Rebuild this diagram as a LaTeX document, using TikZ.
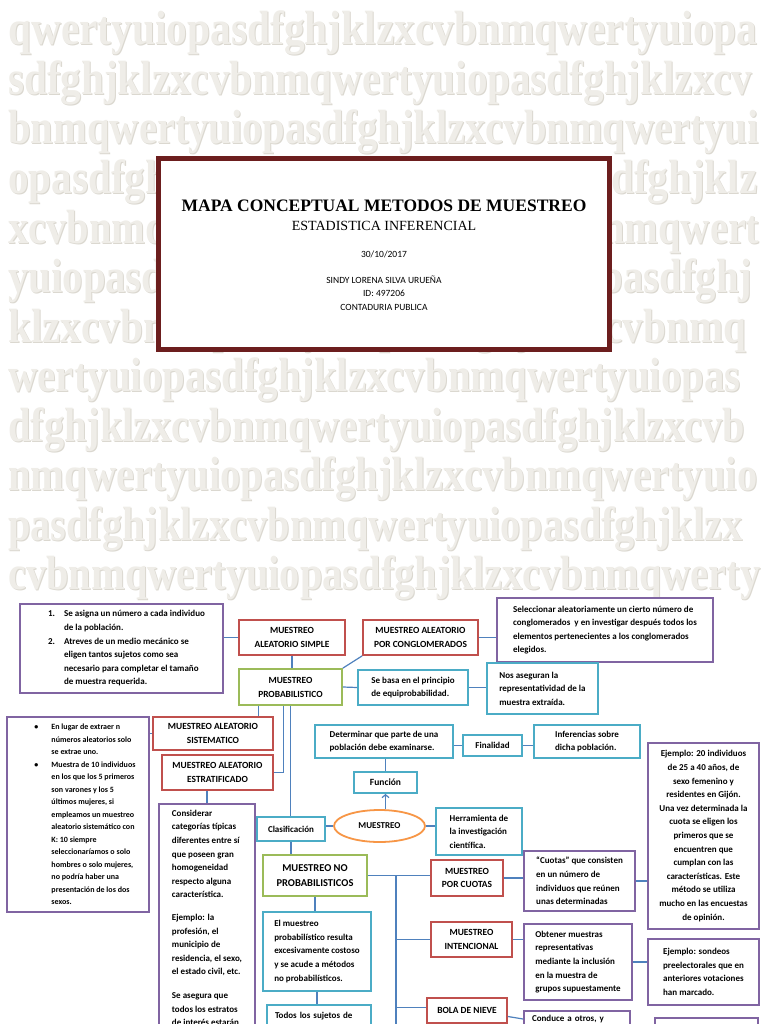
\documentclass[tikz,border=0pt]{standalone}
\usepackage{fontspec}
\usepackage{graphicx}
\setmainfont{Carlito}
\newfontfamily\serifface{Liberation Serif}
\usetikzlibrary{shapes.geometric,arrows.meta,calc}

\definecolor{boxred}{RGB}{192,80,77}
\definecolor{boxgreen}{RGB}{155,187,89}
\definecolor{boxcyan}{RGB}{75,172,198}
\definecolor{boxpurple}{RGB}{128,100,162}
\definecolor{boxorange}{RGB}{247,150,70}
\definecolor{linkblue}{RGB}{79,129,189}
\definecolor{framered}{RGB}{108,30,30}
\definecolor{bgletter}{RGB}{239,237,232}
\definecolor{bgshadow}{RGB}{219,216,208}

\newcommand{\listlead}[3]{\hspace*{#1}\makebox[#2][l]{#3}}
\newcommand{\listpad}[1]{\hspace*{#1}}
\newcommand{\bgrow}[2]{\resizebox*{#2pt}{\totalheight}{#1}}

\tikzset{every picture/.style={line width=0.75pt}}
\tikzset{
  bgtext/.style={anchor=base west, inner sep=0pt, font=\serifface\bfseries\fontsize{48}{48}\selectfont},
  titletext/.style={inner sep=0pt},
  mapbox/.style={draw, line width=1.8pt, fill=white, inner sep=3pt, align=left, font=\bfseries\fontsize{9}{13.6}\selectfont},
  redbox/.style={mapbox, draw=boxred, align=center, font=\bfseries\fontsize{9.4}{13.5}\selectfont},
  greenbox/.style={mapbox, draw=boxgreen, align=center},
  cyanbox/.style={mapbox, draw=boxcyan},
  purplebox/.style={mapbox, draw=boxpurple},
  link/.style={draw=linkblue, line width=1.2pt},
}

\begin{document}
\begin{tikzpicture}[x=1pt,y=1pt,yscale=-1]
\useasboundingbox (0,0) rectangle (768,1024);
\clip (0,0) rectangle (768,1024);
\fill[white] (0,0) rectangle (768,1024);

\foreach \row/\w [count=\i] in {qwertyuiopasdfghjklzxcvbnmqwertyuiopa/749,sdfghjklzxcvbnmqwertyuiopasdfghjklzxcv/744,bnmqwertyuiopasdfghjklzxcvbnmqwertyui/750,opasdfghjklzxcvbnmqwertyuiopasdfghjklz/749,xcvbnmqwertyuiopasdfghjklzxcvbnmqwert/751,yuiopasdfghjklzxcvbnmqwertyuiopasdfghj/744,klzxcvbnmqwertyuiopasdfghjklzxcvbnmq/738,wertyuiopasdfghjklzxcvbnmqwertyuiopas/732,dfghjklzxcvbnmqwertyuiopasdfghjklzxcvb/737,nmqwertyuiopasdfghjklzxcvbnmqwertyuio/749,pasdfghjklzxcvbnmqwertyuiopasdfghjklzx/734,cvbnmqwertyuiopasdfghjklzxcvbnmqwerty/752} {
  \node[bgtext, text=bgshadow] at (9, {46+49.5*(\i-1)}) {\bgrow{\row}{\w}};
  \node[bgtext, text=bgletter] (bg\i) at (8, {45+49.5*(\i-1)}) {\bgrow{\row}{\w}};
}

\node[draw=framered, line width=4pt, fill=white, minimum width=452, minimum height=191] (titlebox) at (384,254) {};
\draw[framered, line width=1pt] ($(titlebox.north west)+(4.5,4.5)$) rectangle ($(titlebox.south east)+(-4.5,-4.5)$);
\node[titletext, font=\serifface\bfseries\fontsize{17.5}{20}\selectfont] (title) at (384,206) {MAPA CONCEPTUAL METODOS DE MUESTREO};
\node[titletext, font=\serifface\fontsize{14}{16}\selectfont] (subtitle) at (384,226) {ESTADISTICA INFERENCIAL};
\node[titletext, font=\fontsize{9.5}{12}\selectfont] (fecha) at (384,254) {30/10/2017};
\node[titletext, font=\fontsize{9.5}{13.3}\selectfont, align=center] (autor) at (384,293) {SINDY LORENA SILVA URUEÑA\\ID: 497206\\CONTADURIA PUBLICA};

\node[purplebox, minimum width=203, minimum height=89] (pasos) at (121.5,648.5) {\listlead{10pt}{16pt}{1.}Se asigna un número a cada individuo\\\listpad{26pt}de la población.\\\listlead{10pt}{16pt}{2.}Atreves de un medio mecánico se\\\listpad{26pt}eligen tantos sujetos como sea\\\listpad{26pt}necesario para completar el tamaño\\\listpad{26pt}de muestra requerida.};
\node[redbox, minimum width=106, minimum height=35] (simple) at (292,637.5) {MUESTREO\\ALEATORIO SIMPLE};
\node[redbox, minimum width=115, minimum height=35] (conglo) at (420.5,637.5) {MUESTREO ALEATORIO\\POR CONGLOMERADOS};
\node[purplebox, minimum width=216, minimum height=64] (selconglo) at (605,630) {Seleccionar aleatoriamente un cierto número de\\conglomerados \ y en investigar después todos los\\elementos pertenecientes a los conglomerados\\elegidos.};
\node[greenbox, minimum width=103, minimum height=36, font=\bfseries\fontsize{9.4}{14}\selectfont] (prob) at (290.5,687) {MUESTREO\\PROBABILISTICO};
\node[cyanbox, minimum width=110, minimum height=35] (equi) at (413,687.5) {Se basa en el principio\\de equiprobabilidad.};
\node[cyanbox, minimum width=111, minimum height=51] (repre) at (542.5,688.5) {Nos aseguran la\\representatividad de la\\muestra extraída.};

\node[redbox, minimum width=120, minimum height=33] (siste) at (213,733.5) {MUESTREO ALEATORIO\\SISTEMATICO};
\node[purplebox, minimum width=142, minimum height=195, font=\bfseries\fontsize{8}{12.5}\selectfont] (sistelist) at (78,814.5) {\listlead{14pt}{17pt}{\textbullet}En lugar de extraer n\\\listpad{31pt}números aleatorios solo\\\listpad{31pt}se extrae uno.\\\listlead{14pt}{17pt}{\textbullet}Muestra de 10 individuos\\\listpad{31pt}en los que los 5 primeros\\\listpad{31pt}son varones y los 5\\\listpad{31pt}últimos mujeres, si\\\listpad{31pt}empleamos un muestreo\\\listpad{31pt}aleatorio sistemático con\\\listpad{31pt}K: 10 siempre\\\listpad{31pt}seleccionaríamos o solo\\\listpad{31pt}hombres o solo mujeres,\\\listpad{31pt}no podría haber una\\\listpad{31pt}presentación de los dos\\\listpad{31pt}sexos.};
\node[redbox, minimum width=111, minimum height=35] (estrat) at (217.5,772.5) {MUESTREO ALEATORIO\\ESTRATIFICADO};
\node[purplebox, anchor=north, minimum width=96, inner ysep=6pt, text depth=30pt] (estratinfo) at (207,803) {Considerar\\categorías típicas\\diferentes entre sí\\que poseen gran\\homogeneidad\\respecto alguna\\característica.\\[9pt]Ejemplo: la\\profesión, el\\municipio de\\residencia, el sexo,\\el estado civil, etc.\\[10pt]Se asegura que\\todos los estratos\\de interés estarán};

\node[cyanbox, minimum width=138, minimum height=33] (determinar) at (384,741.5) {Determinar que parte de una\\población debe examinarse.};
\node[cyanbox, minimum width=59, minimum height=21] (finalidad) at (492.5,745.5) {Finalidad};
\node[cyanbox, minimum width=106, minimum height=33] (inferencias) at (587,741.5) {Inferencias sobre\\dicha población.};
\node[cyanbox, minimum width=63, minimum height=21, font=\bfseries\fontsize{9.5}{12}\selectfont] (funcion) at (385.5,782.5) {Función};
\node[cyanbox, minimum width=68, minimum height=24] (clasif) at (291,829) {Clasificación};
\node[draw=boxorange, line width=1.8pt, fill=white, ellipse, minimum width=91, minimum height=32, inner sep=0pt, font=\bfseries\fontsize{9}{12}\selectfont] (muestreo) at (379.5,826) {MUESTREO};
\node[cyanbox, minimum width=86, minimum height=47] (herramienta) at (479,831.5) {Herramienta de\\la investigación\\científica.};

\node[greenbox, minimum width=104, minimum height=41, font=\bfseries\fontsize{10.5}{15}\selectfont] (noprob) at (315,875.5) {MUESTREO NO\\PROBABILISTICOS};
\node[cyanbox, minimum width=108, minimum height=79] (noprobinfo) at (317,951.5) {El muestreo\\probabilístico resulta\\excesivamente costoso\\y se acude a métodos\\no probabilísticos.};
\node[cyanbox, anchor=north, text width=88, inner xsep=8pt, inner ysep=7pt, text depth=30pt] (todos) at (319,1004) {Todos los sujetos de};

\node[redbox, minimum width=72, minimum height=36] (cuotas) at (467,878) {MUESTREO\\POR CUOTAS};
\node[purplebox, minimum width=111, minimum height=60] (cuotasinfo) at (579.5,881) {“Cuotas” que consisten\\en un número de\\individuos que reúnen\\unas determinadas};
\node[purplebox, minimum width=111, minimum height=186, align=center] (cuotasej) at (703.5,836) {Ejemplo: 20 individuos\\de 25 a 40 años, de\\sexo femenino y\\residentes en Gijón.\\Una vez determinada la\\cuota se eligen los\\primeros que se\\encuentren que\\cumplan con las\\características. Este\\método se utiliza\\mucho en las encuestas\\de opinión.};
\node[redbox, minimum width=81, minimum height=35] (intencional) at (471.5,939.5) {MUESTREO\\INTENCIONAL};
\node[purplebox, minimum width=108, minimum height=76] (intencinfo) at (578,962) {Obtener muestras\\representativas\\mediante la inclusión\\en la muestra de\\grupos supuestamente};
\node[purplebox, minimum width=111, minimum height=66] (sondeos) at (703.5,972) {Ejemplo: sondeos\\preelectorales que en\\anteriores votaciones\\han marcado.};
\node[redbox, minimum width=80, minimum height=25] (bola) at (467,1010.5) {BOLA DE NIEVE};
\node[purplebox, anchor=north, text width=90, inner xsep=8pt, inner ysep=4pt, text depth=30pt] (bolainfo) at (577,1010) {Conduce a otros, y};
\node[purplebox, anchor=north, minimum width=103, minimum height=40] (bolaej) at (706.5,1017) {};

\draw[link] (simple.west) -- (simple.west -| pasos.east);
\draw[link] (simple.south) -- (simple.south |- prob.north);
\draw[link] (prob.north east) -- (conglo.south west);
\draw[link] (conglo.east) -- (conglo.east -| selconglo.west);
\draw[link] (prob.east) -- (equi.west);
\draw[link] (equi.east) -- (equi.east -| repre.west);
\draw[link] ([xshift=-32]prob.south) -- ([xshift=-32]prob.south |- siste.north);
\draw[link] ([xshift=-7]prob.south) |- (estrat.east);
\draw[link] (prob.south) -- (prob.south |- clasif.north);
\draw[link] (siste.west) -- (siste.west -| sistelist.east);
\draw[link] (estratinfo.north) -- (estratinfo.north |- estrat.south);
\draw[link] (muestreo.west) -- (muestreo.west -| clasif.east);
\draw[link, -{Straight Barb[length=3pt,width=7pt]}] (muestreo.north -| funcion.south) -- (funcion.south);
\draw[link] (funcion.north) -- (funcion.north |- determinar.south);
\draw[link] (finalidad.west) -- (finalidad.west -| determinar.east);
\draw[link] (finalidad.east) -- (finalidad.east -| inferencias.west);
\draw[link] (muestreo.east) -- (muestreo.east -| herramienta.west);
\draw[link] (clasif.south) -- (clasif.south |- noprob.north);
\draw[link] (noprob.south) -- (noprob.south |- noprobinfo.north);
\draw[link] (noprobinfo.south) -- (noprobinfo.south |- todos.north);

\coordinate (tronco) at (396,875.5);
\draw[link] (noprob.east) -- (noprob.east -| cuotas.west);
\draw[link] (tronco) -- (396,1030);
\draw[link] (tronco |- intencional.west) -- (intencional.west);
\draw[link] ($(tronco |- bola.west)+(0,-3)$) -- ($(bola.west)+(0,-3)$);
\draw[link] (cuotas.east) -- (cuotas.east -| cuotasinfo.west);
\draw[link] (cuotasinfo.east) -- (cuotasinfo.east -| cuotasej.west);
\draw[link] (intencional.east) -- (intencional.east -| intencinfo.west);
\draw[link] (intencinfo.east) -- (intencinfo.east -| sondeos.west);
\draw[link] ($(bola.east)+(0,6)$) -- ($(bolainfo.north west)+(0,9)$);
\end{tikzpicture}
\end{document}
